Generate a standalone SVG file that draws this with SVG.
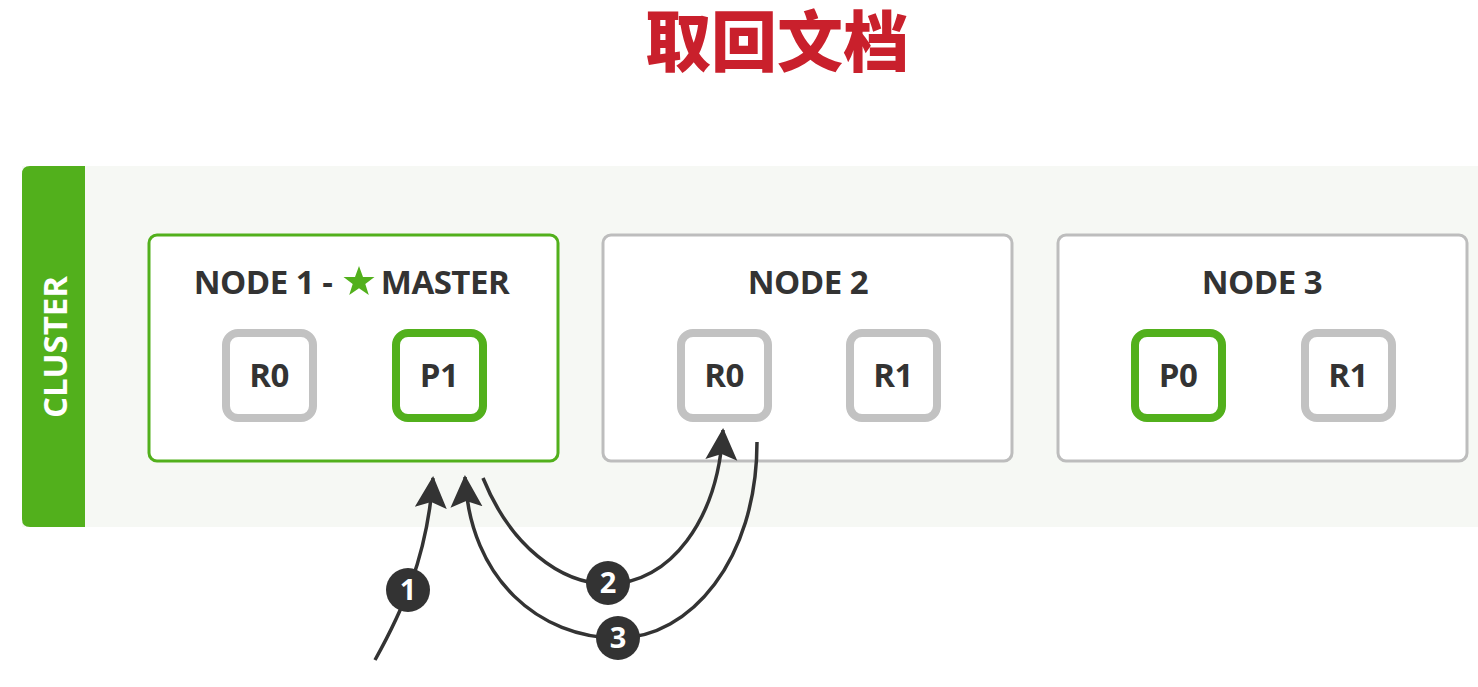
<svg xmlns="http://www.w3.org/2000/svg" width="1478" height="687" viewBox="0 0 1478 687">
<style>
.title{font-family:"Noto Sans CJK SC","Noto Sans",sans-serif;font-weight:900;font-size:66px;fill:#c9202c}
.node{fill:#fff;stroke-width:3}
.master{stroke:#52b01c}
.plain{stroke:#bdbdbd}
.ntext{font-family:"Open Sans","Noto Sans",sans-serif;font-weight:700;font-size:33px;fill:#333;text-anchor:middle;letter-spacing:-0.5px}
.shard{fill:#fff;stroke-width:8}
.pri{stroke:#52b01c}
.rep{stroke:#c2c2c2}
.stext{font-family:"Open Sans","Noto Sans",sans-serif;font-weight:700;font-size:33px;fill:#333;text-anchor:middle;letter-spacing:-0.5px}
.conn{fill:none;stroke:#333;stroke-width:3.5}
.badge{fill:#333}
.btext{font-family:"Open Sans","Noto Sans",sans-serif;font-weight:700;font-size:29px;fill:#fff;text-anchor:middle}
.ctext{font-family:"Open Sans","Noto Sans",sans-serif;font-weight:700;font-size:33px;fill:#fff;text-anchor:middle}
</style>
<defs>
<marker id="arrow" markerUnits="userSpaceOnUse" markerWidth="34" markerHeight="34" refX="30" refY="16" orient="auto" viewBox="0 0 34 32">
<path d="M0,0 L32,16 L0,32 L6,16 Z" fill="#333"/>
</marker>
</defs>
<rect width="1478" height="687" fill="#fff"/>
<text class="title" x="777" y="66" text-anchor="middle">取回文档</text>
<g id="cluster">
<rect x="22" y="166" width="1456" height="361" fill="#f6f8f4"/>
<path d="M30,166 H85 V527 H30 Q22,527 22,519 V174 Q22,166 30,166 Z" fill="#52b01c"/>
<text class="ctext" transform="translate(67,347) rotate(-90)">CLUSTER</text>
</g>
<g id="node1">
<rect class="node master" x="149" y="235" width="409" height="226" rx="8"/>
<text class="ntext" x="263" y="294">NODE 1 -</text>
<path d="M359,266 L363,277 L374.5,277 L365.3,284 L368.8,295 L359,288.3 L349.2,295 L352.7,284 L343.5,277 L355,277 Z" fill="#52b01c"/>
<text class="ntext" x="445" y="294">MASTER</text>
<g id="n1-r0"><rect class="shard rep" x="226" y="333" width="87" height="85" rx="12"/><text class="stext" x="269" y="387">R0</text></g>
<g id="n1-p1"><rect class="shard pri" x="396" y="333" width="87" height="85" rx="12"/><text class="stext" x="439" y="387">P1</text></g>
</g>
<g id="node2">
<rect class="node plain" x="603" y="235" width="409" height="226" rx="8"/>
<text class="ntext" x="808" y="294">NODE 2</text>
<g id="n2-r0"><rect class="shard rep" x="681" y="333" width="87" height="85" rx="12"/><text class="stext" x="724" y="387">R0</text></g>
<g id="n2-r1"><rect class="shard rep" x="850" y="333" width="87" height="85" rx="12"/><text class="stext" x="893" y="387">R1</text></g>
</g>
<g id="node3">
<rect class="node plain" x="1058" y="235" width="409" height="226" rx="8"/>
<text class="ntext" x="1262" y="294">NODE 3</text>
<g id="n3-p0"><rect class="shard pri" x="1135" y="333" width="87" height="85" rx="12"/><text class="stext" x="1178" y="387">P0</text></g>
<g id="n3-r1"><rect class="shard rep" x="1305" y="333" width="87" height="85" rx="12"/><text class="stext" x="1348" y="387">R1</text></g>
</g>
<g id="connectors">
<path class="conn" d="M375,660 C400,615 427,560 433,478" marker-end="url(#arrow)"/>
<path class="conn" d="M483,478 C510,545 560,584 608,584 C670,584 718,520 723,430" marker-end="url(#arrow)"/>
<path class="conn" d="M757,442 C757,560 690,638 618,638 C540,638 470,580 465,477" marker-end="url(#arrow)"/>
<g id="badge1"><circle class="badge" cx="408" cy="590" r="22"/><text class="btext" x="408" y="600">1</text></g>
<g id="badge2"><circle class="badge" cx="608" cy="583" r="22"/><text class="btext" x="608" y="593">2</text></g>
<g id="badge3"><circle class="badge" cx="618" cy="638" r="22"/><text class="btext" x="618" y="648">3</text></g>
</g>
</svg>
